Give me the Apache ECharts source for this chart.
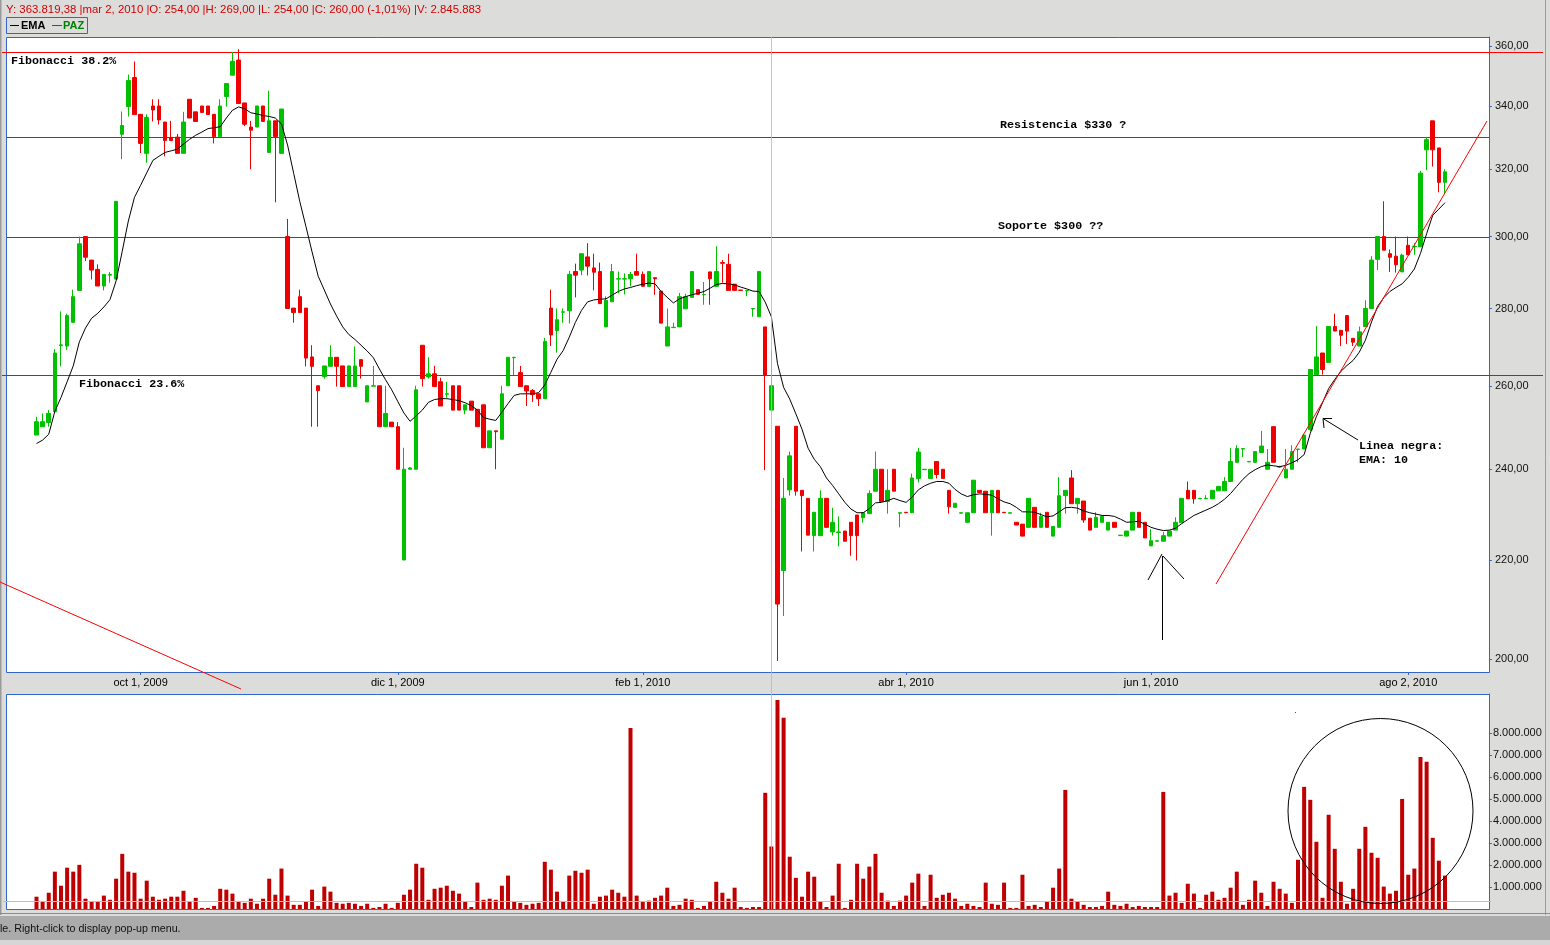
<!DOCTYPE html>
<html><head><meta charset="utf-8">
<script src="https://cdn.jsdelivr.net/npm/echarts@6/dist/echarts.min.js"></script>
<style>html,body{margin:0;padding:0;background:#dcdddb;overflow:hidden}#c{width:1550px;height:945px}</style>
</head><body><div id="c"></div>
<script>
// ---------- DATA ----------
const openP = [248,250,251,253.6,270.2,270.1,276.3,284.9,300,293.3,
290.7,286.1,289.1,288,330.9,339.8,349.4,337.3,324.9,340,
340,334.8,329.9,330,324.9,342.2,338.1,340,340,337.3,
330.1,343.1,350.2,355.3,341,333.2,333.2,340,325.2,335.2,
324.9,300,280.1,283.2,280.1,267.3,260,262.3,264.9,267.2,
265,259.8,259.8,266.6,256,259.9,260,250,251.1,250,
220,240,240,270.3,262.2,263,261,257.9,260,260,
254,256.2,254.2,255.3,245,249,247,260,267.1,263.3,
260,258.8,258,256.8,280.1,274.1,279,279.4,290.1,290.5,
294.2,291.1,290.1,275.1,281.8,288,288,288.1,290.1,289.3,
286,288.4,284.7,270.1,274.9,275.1,279.9,283,285.1,283.7,
290,286,292.6,292.1,286.6,285,284.8,279.9,277.8,275.1,
254,250.1,217.8,235.3,250.1,235.2,233.4,225.2,225.2,233.4,
226,225.9,226.2,228.1,229.7,229.1,230,235,240,232.7,
240,230.1,230.3,230.2,237.9,239.9,237.9,241.8,240,235.2,
231.4,230.1,228.1,230.2,235.2,235,230.2,235.2,230.3,230.1,
228.1,227.7,227,231.4,227,230.3,225.1,227,234,238,
232.2,232.8,229,227,228.1,226.4,228.1,225.2,225.1,226.4,
230.3,228.1,223,224,224,225.1,226.4,228,235.2,235.2,
233.3,233.3,233.3,235.1,235.1,237.2,241.6,244.7,241.7,241.6,
243.9,240,250,240.5,238,240,244.6,244.7,249.3,262.8,
268.3,265.9,275.2,274.2,278.1,272.1,270.1,275.2,280,293.5,
300,295.1,294.4,290,297.5,297.1,297.1,326,335.2,326.6,
316];
const highP = [252.4,253.2,254,269.3,279.2,278.6,285.1,300,300,293.3,
292.1,289.3,290,310.3,338.2,350.4,354.8,337.3,337.3,342.2,
342.2,334.8,335.2,331,338.1,342.2,338.1,340,340,337.3,
342.2,347.4,358,359,341,335.2,340,340,345,335.2,
339,305.1,280.1,285.1,280.1,270.3,260,265,270.3,267.2,
265,265,270,266.6,260,265,260,260,251.1,251.1,
245,240.5,260,270.3,267.2,265,262,261,260,260,
255.3,256.2,254.2,255.3,249,249,260,267.2,267.2,265,
260,259.2,258,272.2,285.1,280,280,290.3,292.3,295.1,
298.1,295.1,292.6,283.3,292.2,290.1,289.6,290,295.1,290.1,
290.1,288.4,284.7,280,276.2,284.2,284,290.1,285.1,287.2,
290,297.2,293.3,295.1,286.6,285,284.9,280,290.1,275.1,
269,250.1,238,244.1,250.1,235.2,233.4,230.3,235.2,233.4,
231.3,229.4,226.2,228.1,229.7,230.2,235.2,244.1,240,240,
240,230.2,230.3,239,245,240,240,241.8,240,235.2,
232.3,230.2,230.2,237.5,235.2,235,235.2,235.2,230.3,230.2,
228.1,227.7,233.4,231.4,230.2,230.3,227.2,238.2,235.2,239.8,
233.4,232.8,229,230.3,229.4,228.1,228.1,225.3,226.2,230.3,
230.3,228.1,226.6,224.1,226,226.2,229.2,233.4,237.2,235.2,
233.4,234.1,235.2,236.1,238.2,245,245.6,244.8,241.8,244.1,
249,244.7,250,240.8,244.7,245.6,244.7,248,264.1,275.3,
268.3,275.2,278.6,274.2,278.1,272.1,275.2,282.2,294.4,300,
310.3,296.3,300,295.1,300,298.1,319.5,330,335.2,326.6,
320];
const lowP = [248,250,250,253.6,264.9,269.1,276.3,284.9,293,287.9,
286.1,284.9,287,288,323.1,336.6,337.2,325,322,335,
334,324,328.9,324.9,324.9,336.1,335,337.9,337.2,328,
330.1,339.8,350.2,340.8,333.5,320,333.2,335,325.2,310,
324.9,280,276.2,278.9,264.9,250,250,261.8,264.9,259.8,
259.8,259.8,259.8,261.8,256,259.9,250,250,250,240,
220,240,240,259.8,261.8,259.8,255,257,254,254,
253,254,250,245,245,240,247,260,262.7,259.8,
255,256,255,256.8,270.1,268.4,276.2,276,283,289.1,
289,284.9,281.3,275.1,281.8,284.1,283.8,286,289.1,286,
286,283.7,276.1,270.1,274.9,275.1,279.9,283,283.8,281,
281,286,287,284.9,284.9,284.9,283.3,277.8,277.8,239.8,
254,199.7,208.5,234,234,221.8,225.3,221.8,225.2,227,
225.2,222.9,224,220.9,219.9,228,230,235,232.7,230,
235,227,230.2,230.2,237,239.9,237.9,237.9,237.9,230,
231.4,230.1,228.1,230.2,234.7,230.2,225.2,230.2,230.2,230.1,
227.5,225.1,227,227,227,227,225.1,227,230,232.2,
230,228,226.4,227,228.1,226.4,227,225.2,225.1,226.4,
227,224.7,223,224,224,225.1,226.4,228,233.3,232.2,
233.3,233.3,233.3,235.1,235.1,237.2,241.6,242.8,241.7,241.6,
243.9,240,241.6,240.3,238,240,241.6,244.7,249,262.8,
262.8,265.9,274,270.1,270.6,270.1,270.1,275.2,280,290.5,
296.1,290,289.8,290,294.8,294.8,297.1,319.7,320.8,313,
312.4];
const closeP = [251.2,251.2,253.2,268.3,270.4,278.1,283.2,297.9,294.1,290.5,
286.1,289.3,289.3,310.3,333.7,348.4,337.2,328,336.3,338.7,
335.5,328.9,328.9,324.9,334.8,336.1,335,337.9,337.2,330.1,
340,347.4,354.9,340.8,334.1,332.2,340,335,335.2,330.2,
339,280,278.9,278.9,267,264.9,258.8,265,267.2,264.9,
259.8,265,265,264.9,260,260,250,253.2,250,240,
240,240.3,259,261.8,263,259.8,255,258,254,254,
255.3,254,250,245,249,248.8,258,267.2,267.2,259.8,
258.7,257.8,256.8,271.3,273,277,279.1,289.3,289.1,295.1,
291.6,289.9,281.3,282.2,290.1,288.1,288.1,289.3,289.1,286,
290.1,288.1,276.1,275.1,275,283.2,283.2,290.1,283.8,283.8,
288.1,290.1,292.4,284.9,284.9,284.9,284.9,280,290.1,262.6,
260,210.9,233.4,243.1,235,234,225.3,230.3,233.4,227,
228.1,226,224,225.2,225.2,230.2,234.5,240,232.7,235.2,
235,230.2,230.2,238,244,240,240,238.8,237.9,231.5,
232.3,230.2,230.2,237.5,234.7,230.2,235.2,230.2,230.2,230.2,
227.5,225.1,233.4,227,229.4,227,227.2,234,235.2,232.2,
233.4,228.6,226.4,229.2,229.4,228.1,227,225.3,226.2,230.3,
227,224.7,224.1,224.1,225.2,226.2,228.1,233.4,233.3,233.3,
233.4,233.4,235.2,236.1,237.2,241.8,244.8,244.8,241.8,244.1,
245.4,241.6,241.6,240.6,240,244.1,244.7,248,264.1,267.3,
264.1,275.2,274,272.9,274,271.1,273.8,280,293.3,300,
296.1,294.1,292,294.7,294.8,297.2,318.8,329.2,326,316,
319.2];
const ema10 = [246.0,246.8,248.2,253.7,257.1,261.0,265.0,271.2,274.8,277.4,
278.7,280.4,282.4,287.5,295.8,304.5,311.5,315.1,318.9,322.7,
324.0,325.2,325.7,326.2,327.8,329.3,330.6,331.6,332.7,333.0,
333.3,336.1,338.6,339.7,339.1,337.8,337.4,336.9,336.6,336.1,
334.2,327.5,318.7,310.2,302.9,295.6,288.8,285.0,281.2,278.0,
275.1,273.1,271.8,270.3,268.8,267.1,264.2,261.5,259.0,256.1,
253.3,251.3,252.6,254.0,255.9,256.6,256.8,256.8,256.6,256.3,
255.8,255.1,254.0,252.2,251.8,251.5,253.5,255.6,257.6,258.0,
258.0,258.0,258.3,260.2,263.4,266.7,268.9,272.4,276.3,279.5,
281.8,282.3,282.5,282.6,283.6,284.6,285.3,285.7,286.2,286.6,
286.9,286.7,284.6,283.0,281.5,282.6,283.2,283.7,284.1,284.6,
285.5,286.5,286.8,286.7,286.4,285.8,285.3,284.7,284.6,281.7,
277.8,265.6,259.6,256.7,253.1,249.4,244.9,242.3,240.6,238.0,
236.3,234.4,232.5,231.0,230.2,230.2,231.1,232.4,232.5,232.9,
233.4,232.9,232.5,233.7,235.3,236.2,236.8,237.2,237.2,236.8,
235.4,234.4,233.8,234.2,234.4,234.3,234.1,233.3,232.6,232.2,
231.4,230.4,230.4,230.3,229.8,229.3,229.5,230.4,231.3,231.4,
231.2,230.6,230.2,229.9,229.6,229.6,229.4,228.8,228.1,228.2,
228.3,227.7,227.0,226.6,226.3,226.4,226.8,227.8,228.7,229.6,
230.2,230.8,231.4,232.2,233.2,234.5,236.1,237.7,239.0,239.9,
240.6,241.0,240.8,240.6,240.9,241.5,242.2,243.4,248.4,252.4,
255.8,259.3,261.6,263.6,265.1,266.4,268.5,271.6,276.4,280.6,
282.9,284.6,285.7,286.7,288.5,290.8,295.2,300.8,306.2,308.0,
309.9];
// volume in millions of shares
const volumeM = [0.56,0.33,0.74,1.70,1.06,1.88,1.70,2.01,0.47,0.33,
0.33,0.61,0.42,1.38,2.51,1.70,1.65,0.47,1.29,0.56,
0.42,0.47,0.56,0.56,0.83,0.36,0.51,0.05,0.05,0.14,
0.92,0.88,0.70,0.33,0.28,0.47,0.24,0.47,1.38,0.65,
1.84,0.61,0.19,0.19,0.36,0.88,0.14,1.02,0.79,0.28,
0.24,0.28,0.24,0.14,0.24,0.05,0.09,0.24,0.05,0.28,
0.65,0.88,2.06,1.88,0.42,0.92,0.97,1.06,0.83,0.70,
0.36,0.09,1.20,0.42,0.47,0.42,1.06,1.52,0.33,0.28,
0.19,0.24,0.28,2.15,1.79,0.79,0.33,1.52,1.74,1.65,
1.79,0.24,0.56,0.61,0.88,0.74,0.56,8.24,0.61,0.33,
0.38,0.51,0.61,0.97,0.14,0.19,0.47,0.42,0.05,0.14,
0.33,1.24,0.74,0.47,0.97,0.09,0.05,0.09,0.09,5.29,
2.845883,9.51,8.70,2.38,1.42,0.56,1.70,1.47,0.33,0.09,
0.61,2.06,0.05,0.42,2.06,1.38,1.93,2.51,0.74,0.38,
0.14,0.38,0.61,1.20,1.61,0.14,1.56,0.51,0.65,0.74,
0.47,0.14,0.24,0.14,0.09,1.20,0.24,0.19,1.20,0.05,
0.05,1.56,0.14,0.19,0.09,0.33,0.97,1.84,5.42,0.47,
0.33,0.19,0.09,0.09,0.14,0.79,0.19,0.14,0.24,0.09,
0.14,0.09,0.09,0.09,5.33,0.61,0.74,0.28,1.15,0.70,
0.05,0.65,0.79,0.42,0.51,0.97,1.70,0.19,0.42,1.29,
0.74,0.14,1.24,0.92,0.70,0.28,2.24,5.56,4.97,3.06,
0.51,4.29,2.74,1.24,0.24,0.92,2.74,3.74,2.56,2.33,
1.02,0.70,0.83,5.01,1.56,1.84,6.92,6.70,3.24,2.20,
1.52];
const xTickIndex = [17, 59, 99, 142, 182, 224];
const xTickLabels = ['oct 1, 2009','dic 1, 2009','feb 1, 2010','abr 1, 2010','jun 1, 2010','ago 2, 2010'];
const priceTicks = [200,220,240,260,280,300,320,340,360];
const volumeTicksM = [1,2,3,4,5,6,7,8];
const fibLevels = [358, 262.6];           // Fibonacci 38.2% / 23.6%
const srLevels = [330, 300];              // Resistencia / Soporte
const cursorIndex = 120;                  // mar 2, 2010
const cursorVolumeM = 0.36381938;         // Y: 363.819,38
const headerText = 'Y: 363.819,38 |mar 2, 2010 |O: 254,00 |H: 269,00 |L: 254,00 |C: 260,00 (-1,01%) |V: 2.845.883';

// ---------- LAYOUT ----------
const PAD = 5, NCAT = 243;
const GL = 2.82, GW = 1488.1;
const PRICE_MIN = 197.6, PRICE_MAX = 363.25, VOL_MAX = 9.786;
const ln = Math.log;
const cats = Array.from({length: NCAT}, (_, k) => String(k));
const tickMap = new Map(xTickIndex.map((d, j) => [d + PAD, xTickLabels[j]]));
const showTick = (idx) => tickMap.has(idx);

const candleData = openP.map((o, i) => [i + PAD, ln(o), ln(closeP[i]), ln(lowP[i]), ln(highP[i])]);
const emaData = ema10.map((v, i) => [i + PAD, ln(v)]);
const volData = volumeM.map((v, i) => [i + PAD, v]);

const fmtPrice = v => Math.round(Math.exp(v)) + ',00';
const fmtVol = v => String(Math.round(v * 1e6)).replace(/\B(?=(\d{3})+(?!\d))/g, '.');
const BLUE = '#3366cc';
const LBL = {color: '#111', fontSize: 11, fontFamily: '"Liberation Sans", Arial, sans-serif'};

const chart = echarts.init(document.getElementById('c'), null, {renderer: 'canvas'});
chart.setOption({
  animation: false,
  backgroundColor: '#dcdddb',
  grid: [
    {left: GL, width: GW, top: 37, height: 635, show: false},
    {left: GL, width: GW, top: 694, height: 215, show: false}
  ],
  xAxis: [
    {type: 'category', gridIndex: 0, data: cats, boundaryGap: true,
     axisLine: {show: false},
     axisTick: {show: true, interval: showTick, alignWithLabel: true, length: 3, lineStyle: {color: BLUE}},
     axisLabel: {interval: showTick, formatter: (v) => tickMap.get(Number(v)) || '', margin: 5, color: '#000',
                 fontSize: 11, fontFamily: LBL.fontFamily},
     splitLine: {show: false}},
    {type: 'category', gridIndex: 1, data: cats, boundaryGap: true,
     axisLine: {show: false}, axisTick: {show: false}, axisLabel: {show: false}, splitLine: {show: false}}
  ],
  yAxis: [
    {type: 'value', gridIndex: 0, position: 'right', offset: -2, min: ln(PRICE_MIN), max: ln(PRICE_MAX),
     axisLine: {show: true, lineStyle: {color: BLUE}},
     axisTick: {show: true, length: 3, customValues: priceTicks.map(ln), lineStyle: {color: BLUE}},
     axisLabel: Object.assign({customValues: priceTicks.map(ln), formatter: fmtPrice, margin: 6}, LBL),
     splitLine: {show: false}},
    {type: 'value', gridIndex: 1, position: 'right', offset: -2, min: 0, max: VOL_MAX,
     axisLine: {show: true, lineStyle: {color: BLUE}},
     axisTick: {show: true, length: 3, customValues: volumeTicksM, lineStyle: {color: BLUE}},
     axisLabel: Object.assign({customValues: volumeTicksM, formatter: fmtVol, margin: 4}, LBL),
     splitLine: {show: false}}
  ],
  series: [
    {type: 'candlestick', xAxisIndex: 0, yAxisIndex: 0, data: candleData,
     encode: {x: 0, y: [1, 2, 3, 4]}, barWidth: 4, z: 3, silent: true,
     itemStyle: {color: '#00c000', color0: '#ee0000', borderColor: '#00c000', borderColor0: '#ee0000',
                 borderColorDoji: '#00c000', borderWidth: 1}},
    {type: 'line', xAxisIndex: 0, yAxisIndex: 0, data: emaData, showSymbol: false, silent: true, z: 4,
     lineStyle: {color: '#000', width: 1}},
    {type: 'bar', xAxisIndex: 1, yAxisIndex: 1, data: volData, barWidth: 4, silent: true, z: 3,
     itemStyle: {color: '#c00000'},
     markLine: {silent: true, symbol: 'none', label: {show: false},
                lineStyle: {color: '#c0c0c0', type: 'solid', width: 1},
                data: [{yAxis: cursorVolumeM}]}}
  ]
});

// ---------- ANNOTATIONS ----------
const yPix = p => Math.round(chart.convertToPixel({yAxisIndex: 0}, ln(p)));
const xCur = Math.round(chart.convertToPixel({xAxisIndex: 0}, cursorIndex + PAD)) + 0.5;
const line = (x1, y1, x2, y2, stroke, z, opacity) => ({type: 'line', z: z, silent: true,
  shape: {x1, y1, x2, y2}, style: {stroke: stroke, lineWidth: 1, opacity: opacity == null ? 1 : opacity}});
const hbar = (x1, x2, y, fill, z) => ({type: 'rect', z: z, silent: true,
  shape: {x: x1, y: y, width: x2 - x1, height: 1}, style: {fill: fill}});
const txt = (text, x, y, font, fill, z) => ({type: 'text', z: z || 20, silent: true,
  style: {text, x, y, font, fill, verticalAlign: 'middle'}});
const MONO = 'bold 11.7px "Liberation Mono", "Courier New", monospace';
const RED_LINE = '#ff0000';

const g = [];
// panels
g.push({type: 'rect', z: -10, silent: true, shape: {x: 6, y: 37, width: 1483, height: 635}, style: {fill: '#fff'}});
g.push({type: 'rect', z: -10, silent: true, shape: {x: 6, y: 694, width: 1483, height: 215}, style: {fill: '#fff'}});
g.push({type: 'rect', z: 1, silent: true, shape: {x: 6.5, y: 37.5, width: 1483, height: 635}, style: {fill: null, stroke: BLUE, lineWidth: 1}});
g.push({type: 'rect', z: 1, silent: true, shape: {x: 6.5, y: 694.5, width: 1483, height: 215}, style: {fill: null, stroke: BLUE, lineWidth: 1}});
// window edges and status bar
g.push({type: 'rect', z: -5, silent: true, shape: {x: 0, y: 0, width: 1.5, height: 915}, style: {fill: '#9a9a9a'}});
g.push(line(1545.5, 0, 1545.5, 915, '#9a9a9a', -5));
g.push({type: 'rect', z: -5, silent: true, shape: {x: 0, y: 913, width: 1550, height: 1}, style: {fill: '#8c8c8c'}});
g.push({type: 'rect', z: -5, silent: true, shape: {x: 0, y: 916, width: 1550, height: 24}, style: {fill: '#ababab'}});
g.push({type: 'rect', z: -5, silent: true, shape: {x: 0, y: 940, width: 1550, height: 5}, style: {fill: '#d6d6d6'}});
g.push(txt('le. Right-click to display pop-up menu.', 0, 929, '10.7px "Liberation Sans", Arial, sans-serif', '#111'));
// header + legend
g.push(txt(headerText, 6, 10, '11.4px "Liberation Sans", Arial, sans-serif', '#d40000'));
g.push({type: 'rect', z: 5, silent: true, shape: {x: 6.5, y: 17.5, width: 81, height: 16}, style: {fill: null, stroke: BLUE, lineWidth: 1}});
g.push(line(10, 25.5, 19, 25.5, '#000', 6));
g.push(txt('EMA', 21, 26, 'bold 11px "Liberation Sans", Arial, sans-serif', '#000'));
g.push(line(52, 25.5, 62, 25.5, '#008000', 6));
g.push(txt('PAZ', 63, 26, 'bold 11px "Liberation Sans", Arial, sans-serif', '#008000'));
// level lines (solid 1px red bars)
fibLevels.forEach(p => g.push(hbar(2, 1543, yPix(p), RED_LINE, 2)));
srLevels.forEach(p => g.push(hbar(7, 1489, yPix(p), RED_LINE, 2)));
// cursor
g.push(line(xCur, 37, xCur, 909, '#b8b8b8', 6, 0.8));
// drawn trend lines
g.push(line(1216, 584, 1487, 121, '#ff0000', 7));
g.push(line(0, 582, 241, 689, '#ff0000', 30));
// arrows
g.push(line(1162.5, 556, 1162.5, 640, '#000', 7));
g.push(line(1162, 554, 1148, 580, '#000', 7));
g.push(line(1163, 556, 1184, 579, '#000', 7));
g.push(line(1358, 440, 1323, 418.5, '#000', 7));
g.push(line(1323, 418.5, 1332, 418.5, '#000', 7));
g.push(line(1323, 418.5, 1324, 428, '#000', 7));
// circle in volume panel
g.push({type: 'circle', z: 7, silent: true, shape: {cx: 1380.5, cy: 811, r: 92.5}, style: {fill: null, stroke: '#000', lineWidth: 1}});
g.push({type: 'rect', z: 7, silent: true, shape: {x: 1295, y: 712, width: 1, height: 1}, style: {fill: '#ff0000'}});
// text notes
g.push(txt('Fibonacci 38.2%', 11, 61, MONO, '#000'));
g.push(txt('Fibonacci 23.6%', 79, 384.5, MONO, '#000'));
g.push(txt('Resistencia $330 ?', 1000, 125, MONO, '#000'));
g.push(txt('Soporte $300 ??', 998, 226.5, MONO, '#000'));
g.push(txt('Linea negra:', 1359, 446, MONO, '#000'));
g.push(txt('EMA: 10', 1359, 460, MONO, '#000'));

chart.setOption({graphic: {elements: g}});
</script></body></html>
